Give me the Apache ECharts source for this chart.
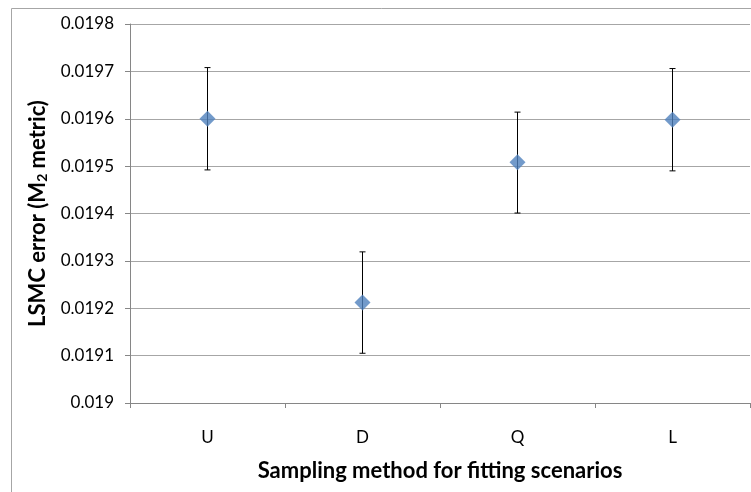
<!DOCTYPE html>
<html>
<head>
<meta charset="utf-8">
<script src="https://cdn.jsdelivr.net/npm/echarts@6/dist/echarts.min.js"></script>
<style>
  html, body { margin: 0; padding: 0; background: #fff; }
  #container { width: 751px; height: 492px; }
</style>
</head>
<body>
<div id="container"></div>
<script>
// data
var categories = ['U', 'D', 'Q', 'L'];
var meanValues = [0.019600, 0.019212, 0.019508, 0.019598];
var lowValues = [0.019492, 0.019105, 0.019401, 0.019490];
var highValues = [0.019708, 0.019319, 0.019614, 0.019706];

var myChart = echarts.init(document.getElementById('container'));

var font = 'Lato, "Open Sans", sans-serif';

var errorData = [];
for (var i = 0; i < categories.length; i++) {
    errorData.push([i, lowValues[i], highValues[i]]);
}

// error bar: vertical line with small caps
function renderError(params, api) {
    var x = api.value(0);
    var lo = api.coord([x, api.value(1)]);
    var hi = api.coord([x, api.value(2)]);
    var cap = 3;
    var style = { stroke: '#000', lineWidth: 1 };
    return {
        type: 'group',
        children: [
            { type: 'line', shape: { x1: lo[0], y1: lo[1], x2: hi[0], y2: hi[1] }, style: style },
            { type: 'line', shape: { x1: hi[0] - cap, y1: hi[1], x2: hi[0] + cap, y2: hi[1] }, style: style },
            { type: 'line', shape: { x1: lo[0] - cap, y1: lo[1], x2: lo[0] + cap, y2: lo[1] }, style: style }
        ]
    };
}

var option = {
    animation: false,
    backgroundColor: '#fff',
    graphic: [{
        type: 'rect',
        shape: { x: 11.5, y: 8.5, width: 800, height: 600 },
        style: { fill: 'none', stroke: '#a6a6a6', lineWidth: 1 },
        silent: true
    }],
    grid: { left: 130, right: 1, top: 24, bottom: 89, containLabel: false },
    xAxis: {
        type: 'category',
        data: categories,
        boundaryGap: true,
        name: 'Sampling method for fitting scenarios',
        nameLocation: 'middle',
        nameGap: 57,
        nameTextStyle: { fontFamily: font, fontSize: 22, fontWeight: 'bold', color: '#000' },
        axisLine: { lineStyle: { color: '#868686', width: 1 } },
        axisTick: { show: true, length: 5, alignWithLabel: false, lineStyle: { color: '#868686' } },
        axisLabel: { fontFamily: font, fontSize: 17, color: '#000', margin: 26 },
        splitLine: { show: false }
    },
    yAxis: {
        type: 'value',
        min: 0.0190,
        max: 0.0198,
        interval: 0.0001,
        name: '{a|LSMC error (M}{s|2}{a| metric)}',
        nameLocation: 'middle',
        nameGap: 79,
        nameRotate: 90,
        nameTextStyle: {
            rich: {
                a: { fontFamily: font, fontSize: 22, fontWeight: 'bold', color: '#000' },
                s: { fontFamily: font, fontSize: 14, fontWeight: 'bold', color: '#000', padding: [10, 0, 0, 0] }
            }
        },
        axisLine: { show: true, lineStyle: { color: '#868686', width: 1 } },
        axisTick: { show: true, length: 5, lineStyle: { color: '#868686' } },
        axisLabel: {
            fontFamily: font, fontSize: 17, color: '#000', margin: 16,
            formatter: function (v) { return parseFloat(v.toFixed(4)).toString(); }
        },
        splitLine: { show: true, lineStyle: { color: '#a6a6a6', width: 1 } }
    },
    series: [
        {
            type: 'custom',
            name: 'error',
            renderItem: renderError,
            data: errorData,
            encode: { x: 0, y: [1, 2] },
            z: 2
        },
        {
            type: 'scatter',
            name: 'LSMC error',
            data: meanValues,
            symbol: 'diamond',
            symbolSize: [16, 16],
            itemStyle: { color: '#4f81bd' },
            z: 3
        }
    ]
};

myChart.setOption(option);
</script>
</body>
</html>
